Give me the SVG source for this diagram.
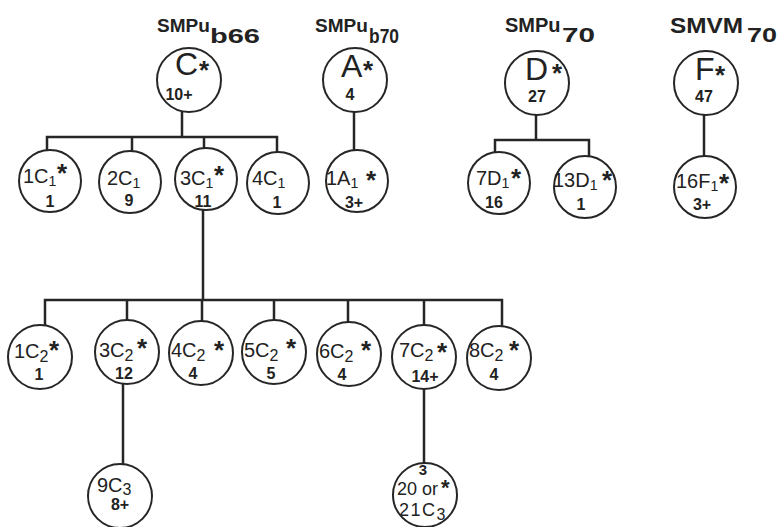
<svg xmlns="http://www.w3.org/2000/svg" width="782" height="527" viewBox="0 0 782 527">
<style>
  .bg{fill:#ffffff}
  .n{fill:#ffffff;stroke:#262626;stroke-width:2}
  .c{fill:none;stroke:#262626;stroke-width:2.5;stroke-linecap:square}
  text{font-family:"Liberation Sans",Arial,sans-serif;fill:#222}
  .t{font-size:19px;font-weight:bold}
  .ts{font-size:20px;font-weight:bold}
  .big{font-size:32px}
  .lb{font-size:20px}
  .s1{font-size:14px}
  .s2{font-size:16px}
  .num{font-size:16px;font-weight:bold;text-anchor:middle}
  .st{font-size:26px;font-weight:bold}
  .st2{font-size:22px;font-weight:bold}
</style>
<rect class="bg" x="0" y="0" width="782" height="527"/>

<g id="titles">
  <text class="t" x="157" y="32">SMPu</text>
  <text class="ts" x="210" y="43" textLength="50" lengthAdjust="spacingAndGlyphs">b66</text>
  <text class="t" x="315" y="32">SMPu</text>
  <text class="ts" x="369" y="43" textLength="30" lengthAdjust="spacingAndGlyphs">b70</text>
  <text class="t" x="505" y="32" style="font-size:20px">SMPu</text>
  <text class="ts" x="562" y="42" textLength="33" lengthAdjust="spacingAndGlyphs">70</text>
  <text class="t" x="670" y="33" style="font-size:22px" textLength="73" lengthAdjust="spacingAndGlyphs">SMVM</text>
  <text class="ts" x="747" y="42" textLength="30" lengthAdjust="spacingAndGlyphs">70</text>
</g>

<g id="connectors">
  <path class="c" d="M182 112V137M47 137H277M47 137V150M132 137V151M204 137V148M277 137V152"/>
  <path class="c" d="M354 111V150"/>
  <path class="c" d="M536 115V140M495 140H589M495 140V152M589 140V156"/>
  <path class="c" d="M704 115V156"/>
  <path class="c" d="M203 210V300M45 300H502M45 300V325M127 300V320M202 300V321M274 300V320M348 300V322M424 300V325M502 300V326"/>
  <path class="c" d="M123 384V464"/>
  <path class="c" d="M424 389V463"/>
</g>

<g id="node-C">
  <circle class="n" cx="189" cy="80" r="32"/>
  <text class="big" x="175" y="75">C<tspan class="st" x="199" y="79">*</tspan></text>
  <text class="num" x="179" y="100">10+</text>
</g>
<g id="node-A">
  <circle class="n" cx="355" cy="80" r="32"/>
  <text class="big" x="341" y="77">A<tspan class="st" x="363" y="79">*</tspan></text>
  <text class="num" x="350" y="100">4</text>
</g>
<g id="node-D">
  <circle class="n" cx="537" cy="83" r="32"/>
  <text class="big" x="525" y="80">D<tspan class="st" x="552" y="82">*</tspan></text>
  <text class="num" x="537" y="102">27</text>
</g>
<g id="node-F">
  <circle class="n" cx="706" cy="83" r="32"/>
  <text class="big" x="695" y="80">F<tspan class="st" x="715" y="84">*</tspan></text>
  <text class="num" x="704" y="102">47</text>
</g>

<g id="node-1C1">
  <circle class="n" cx="50" cy="181" r="31"/>
  <text class="lb" x="23" y="183">1C<tspan class="s1" dy="3">1</tspan><tspan class="st" x="57" y="182">*</tspan></text>
  <text class="num" x="50" y="207">1</text>
</g>
<g id="node-2C1">
  <circle class="n" cx="130" cy="182" r="31"/>
  <text class="lb" x="107" y="185">2C<tspan class="s1" dy="3">1</tspan></text>
  <text class="num" x="129" y="206">9</text>
</g>
<g id="node-3C1">
  <circle class="n" cx="206" cy="179" r="31"/>
  <text class="lb" x="180" y="185">3C<tspan class="s1" dy="3">1</tspan><tspan class="st" x="214" y="184">*</tspan></text>
  <text class="num" x="203" y="207">11</text>
</g>
<g id="node-4C1">
  <circle class="n" cx="278" cy="183" r="31"/>
  <text class="lb" x="252" y="185">4C<tspan class="s1" dy="3">1</tspan></text>
  <text class="num" x="277" y="208">1</text>
</g>
<g id="node-1A1">
  <circle class="n" cx="357" cy="181" r="31"/>
  <text class="lb" x="326" y="185">1A<tspan class="s1" dy="3">1</tspan><tspan class="st" x="366" y="189">*</tspan></text>
  <text class="num" x="354" y="208">3+</text>
</g>
<g id="node-7D1">
  <circle class="n" cx="499" cy="183" r="31"/>
  <text class="lb" x="476" y="185">7D<tspan class="s1" dy="3">1</tspan><tspan class="st" x="511" y="187">*</tspan></text>
  <text class="num" x="494" y="208">16</text>
</g>
<g id="node-13D1">
  <circle class="n" cx="585" cy="187" r="31"/>
  <text class="lb" x="553" y="187">13D<tspan class="s1" dy="3">1</tspan><tspan class="st" x="602" y="189">*</tspan></text>
  <text class="num" x="581" y="210">1</text>
</g>
<g id="node-16F1">
  <circle class="n" cx="705" cy="187" r="31"/>
  <text class="lb" x="676" y="188">16F<tspan class="s1" dy="3">1</tspan><tspan class="st" x="719" y="192">*</tspan></text>
  <text class="num" x="702" y="210">3+</text>
</g>

<g id="node-1C2">
  <circle class="n" cx="40" cy="357" r="32"/>
  <text class="lb" x="14" y="358">1C<tspan class="s2" dy="4">2</tspan><tspan class="st" x="49" y="359">*</tspan></text>
  <text class="num" x="39" y="380">1</text>
</g>
<g id="node-3C2">
  <circle class="n" cx="127" cy="352" r="32"/>
  <text class="lb" x="99" y="357">3C<tspan class="s2" dy="4">2</tspan><tspan class="st" x="137" y="357">*</tspan></text>
  <text class="num" x="124" y="379">12</text>
</g>
<g id="node-4C2">
  <circle class="n" cx="201" cy="353" r="32"/>
  <text class="lb" x="171" y="357">4C<tspan class="s2" dy="4">2</tspan><tspan class="st" x="214" y="359">*</tspan></text>
  <text class="num" x="193" y="379">4</text>
</g>
<g id="node-5C2">
  <circle class="n" cx="274" cy="352" r="32"/>
  <text class="lb" x="244" y="357">5C<tspan class="s2" dy="4">2</tspan><tspan class="st" x="286" y="357">*</tspan></text>
  <text class="num" x="271" y="379">5</text>
</g>
<g id="node-6C2">
  <circle class="n" cx="349" cy="354" r="32"/>
  <text class="lb" x="319" y="358">6C<tspan class="s2" dy="4">2</tspan><tspan class="st" x="361" y="359">*</tspan></text>
  <text class="num" x="342" y="380">4</text>
</g>
<g id="node-7C2">
  <circle class="n" cx="424" cy="357" r="32"/>
  <text class="lb" x="399" y="357">7C<tspan class="s2" dy="4">2</tspan><tspan class="st" x="437" y="361">*</tspan></text>
  <text class="num" x="425" y="382">14+</text>
</g>
<g id="node-8C2">
  <circle class="n" cx="499" cy="358" r="32"/>
  <text class="lb" x="469" y="357">8C<tspan class="s2" dy="4">2</tspan><tspan class="st" x="509" y="359">*</tspan></text>
  <text class="num" x="494" y="380">4</text>
</g>

<g id="node-9C3">
  <circle class="n" cx="120" cy="496" r="32"/>
  <text class="lb" x="97" y="492">9C<tspan class="s2" dy="3">3</tspan></text>
  <text class="num" x="120" y="510">8+</text>
</g>
<g id="node-21C3">
  <circle class="n" cx="425" cy="495" r="32"/>
  <text class="num" x="423" y="475" style="font-size:15px">3</text>
  <text class="lb" x="397" y="495" style="font-size:18px">20 or<tspan class="st2" x="441" y="495">*</tspan></text>
  <text class="lb" x="399" y="516" style="font-size:18px" letter-spacing="1.5">21C<tspan class="s2" dy="4" letter-spacing="0">3</tspan></text>
</g>
</svg>
